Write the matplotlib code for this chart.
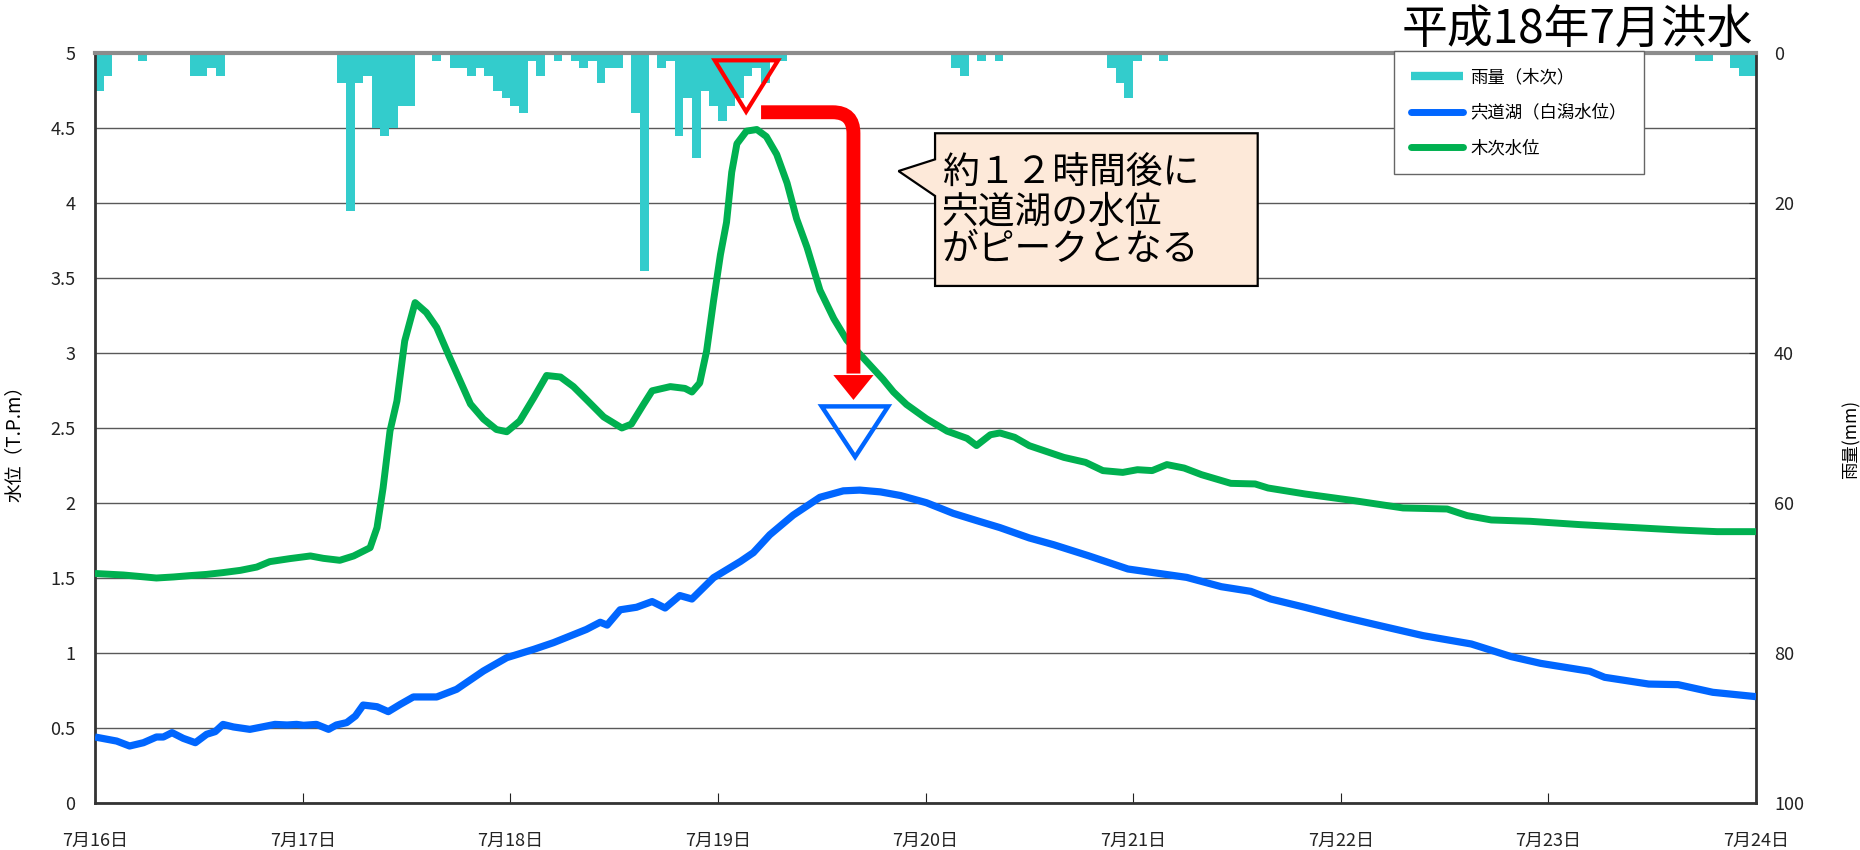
import matplotlib

matplotlib.use("Agg")
import matplotlib.pyplot as plt
import numpy as np
from matplotlib.lines import Line2D
from matplotlib.patches import PathPatch, Polygon
from matplotlib.path import Path
from matplotlib.ticker import FuncFormatter, MultipleLocator

plt.rcParams["font.family"] = ["Noto Sans CJK JP", "DejaVu Sans"]

DAY_LABELS = ["7月16日", "7月17日", "7月18日", "7月19日", "7月20日",
              "7月21日", "7月22日", "7月23日", "7月24日"]

# hourly rainfall at 木次 (mm), only the hours with rain
RAIN_HOURS = [0, 1, 5, 11, 12, 13, 14, 28, 29, 30, 31, 32, 33, 34, 35, 36, 39,
              41, 42, 43, 44, 45, 46, 47, 48, 49, 50, 51, 53, 55, 56, 57, 58,
              59, 60, 62, 63, 65, 66, 67, 68, 69, 70, 71, 72, 73, 74, 75, 76,
              77, 78, 79, 99, 100, 102, 104, 117, 118, 119, 120, 123, 185, 186,
              189, 190, 191]
RAIN_MM = [5, 3, 1, 3, 3, 2, 3, 4, 21, 4, 3, 10, 11, 10, 7, 7, 1,
           2, 2, 3, 2, 3, 5, 6, 7, 8, 1, 3, 1, 1, 2, 1, 4,
           2, 2, 8, 29, 2, 1, 11, 6, 14, 5, 7, 9, 7, 6, 3, 2,
           4, 1, 1, 2, 3, 1, 1, 2, 4, 6, 1, 1, 1, 1,
           2, 3, 3]

# 木次 water level (T.P.m)
KIJI_HOURS = [0, 3.3, 5.2, 7.1, 9.1, 11, 12.9, 14.8, 16.8, 18.7,
              20.2, 22.5, 24.9, 26.4, 28.3, 29.9, 31.8, 32.6, 33.3, 34.1,
              34.9, 35.8, 37, 38.3, 39.5, 41, 43.4, 44.9, 46.4, 47.6,
              49.1, 50.7, 52.2, 53.8, 55.3, 56.8, 58.8, 60.9, 62.0, 63.4,
              64.4, 66.5, 68.2, 69.0, 69.9, 70.7, 71.5, 72.3, 73.0, 73.6,
              74.2, 75.3, 76.5, 77.6, 78.8, 80.0, 81.1, 82.3, 83.8, 85.4,
              86.9, 89.2, 91.1, 92.3, 93.8, 96.1, 98.5, 100.8, 101.9, 103.5,
              104.6, 106.3, 108, 112, 114.5, 116.5, 118.8, 120.5, 122.2, 123.9,
              125.9, 127.9, 131.3, 134.1, 135.6, 139.9, 145.5, 151.2, 156.3, 158.6,
              161.4, 165.9, 171.6, 177.3, 183, 187.5, 192]
KIJI_LEVEL = [1.53, 1.52, 1.51, 1.50, 1.507, 1.516, 1.524, 1.536, 1.551, 1.573,
              1.609, 1.629, 1.647, 1.631, 1.618, 1.647, 1.702, 1.836, 2.10, 2.48,
              2.68, 3.08, 3.336, 3.27, 3.17, 2.97, 2.66, 2.56, 2.49, 2.475,
              2.547, 2.70, 2.85, 2.84, 2.776, 2.69, 2.574, 2.50, 2.526, 2.657,
              2.748, 2.776, 2.764, 2.74, 2.80, 3.014, 3.348, 3.657, 3.871, 4.205,
              4.395, 4.479, 4.49, 4.443, 4.324, 4.133, 3.895, 3.705, 3.419, 3.229,
              3.086, 2.943, 2.824, 2.74, 2.657, 2.562, 2.479, 2.431, 2.383, 2.455,
              2.467, 2.438, 2.382, 2.304, 2.271, 2.216, 2.204, 2.222, 2.216, 2.256,
              2.233, 2.189, 2.131, 2.127, 2.10, 2.06, 2.016, 1.967, 1.96, 1.916,
              1.887, 1.878, 1.856, 1.838, 1.82, 1.809, 1.809]

# 宍道湖 (白潟) water level (T.P.m)
SHINJI_HOURS = [0, 2.5, 4, 5.6, 7.1, 7.9, 8.9, 10.2, 11.6, 12.9,
                13.9, 14.8, 16, 17.9, 19.5, 20.8, 22.2, 23.3, 24.1, 25.6,
                27, 27.9, 29.1, 30.1, 31, 32.6, 33.9, 35.3, 36.8, 39.5,
                41.8, 44.9, 47.6, 50.7, 53, 54.9, 56.8, 58.4, 59.2, 60.7,
                62.6, 64.4, 65.9, 67.6, 69.0, 71.5, 74.6, 76.1, 78.0, 80.7,
                83.8, 86.5, 88.4, 90.8, 93.1, 96.1, 99.2, 101.9, 104.6, 108,
                110.8, 114.8, 119.4, 126.2, 130.2, 133.6, 135.9, 139.9, 144.4, 149,
                153.5, 159.1, 163.7, 167.1, 172.8, 174.5, 179.6, 183, 187, 192]
SHINJI_LEVEL = [0.44, 0.413, 0.38, 0.402, 0.44, 0.44, 0.469, 0.431, 0.402, 0.458,
                0.476, 0.524, 0.507, 0.491, 0.509, 0.524, 0.52, 0.524, 0.518, 0.524,
                0.491, 0.52, 0.536, 0.58, 0.653, 0.642, 0.609, 0.658, 0.707, 0.707,
                0.758, 0.88, 0.969, 1.024, 1.069, 1.113, 1.157, 1.205, 1.186, 1.288,
                1.305, 1.343, 1.30, 1.383, 1.36, 1.502, 1.61, 1.669, 1.788, 1.919,
                2.038, 2.081, 2.086, 2.074, 2.05, 2.002, 1.931, 1.883, 1.836, 1.767,
                1.722, 1.649, 1.56, 1.504, 1.442, 1.411, 1.36, 1.304, 1.238, 1.176,
                1.116, 1.06, 0.976, 0.931, 0.878, 0.838, 0.793, 0.789, 0.738, 0.709]

LEGEND_LABELS = ["雨量（木次）", "宍道湖（白潟水位）", "木次水位"]
CALLOUT_LINES = ["約１２時間後に", "宍道湖の水位", "がピークとなる"]

COL_RAIN = "#33CCCC"
COL_LAKE = "#0066FF"
COL_KIJI = "#00B050"
COL_RED = "#FF0000"
COL_GRID = "#595959"

W, H = 1860, 850
fig = plt.figure(figsize=(W / 100, H / 100), dpi=100, facecolor="white")
ax = fig.add_axes([95 / W, 1 - 803 / H, (1756 - 95) / W, (803 - 53) / H])
ax2 = ax.twinx()
ax.set_zorder(ax2.get_zorder() + 1)
ax.patch.set_visible(False)

# rainfall hanging from the top on the inverted right axis
ax2.bar(np.array(RAIN_HOURS) / 24, RAIN_MM, width=1 / 24, align="edge",
        color=COL_RAIN, linewidth=0, zorder=2)
ax2.set_ylim(100, 0)
ax2.yaxis.set_major_locator(MultipleLocator(20))
ax2.yaxis.set_minor_locator(MultipleLocator(10))
ax2.grid(which="both", axis="y", color=COL_GRID, linewidth=1.0, zorder=1)
ax2.set_axisbelow(True)
ax2.tick_params(axis="y", which="both", direction="in", length=5, pad=13,
                labelsize=13, colors="#222222")
for s in ax2.spines.values():
    s.set_visible(False)
ax2.set_ylabel("雨量(mm)", fontsize=12.5)
ax2.yaxis.set_label_coords((1842 - 95) / 1661, 0.485)

# water levels
ax.plot(np.array(SHINJI_HOURS) / 24, SHINJI_LEVEL, color=COL_LAKE, lw=5.2,
        solid_capstyle="butt", solid_joinstyle="round", zorder=3)
ax.plot(np.array(KIJI_HOURS) / 24, KIJI_LEVEL, color=COL_KIJI, lw=5.0,
        solid_capstyle="butt", solid_joinstyle="round", zorder=3)

ax.set_xlim(0, 8)
ax.set_ylim(0, 5)
ax.set_xticks(range(9))
ax.set_xticklabels(DAY_LABELS)
ax.yaxis.set_major_locator(MultipleLocator(0.5))
ax.yaxis.set_major_formatter(FuncFormatter(lambda v, p: f"{v:g}"))
ax.tick_params(axis="x", direction="in", length=7, pad=21, labelsize=13,
               colors="#222222")
ax.tick_params(axis="y", direction="in", length=0, pad=14, labelsize=13,
               colors="#222222", right=False)
ax.set_ylabel("水位（T.P.m）", fontsize=13.5)
ax.yaxis.set_label_coords((25 - 95) / 1661, 0.485)

for side in ("left", "bottom", "right"):
    ax.spines[side].set_color("#333333")
    ax.spines[side].set_linewidth(2.0)
ax.spines["top"].set_color("#8c8c8c")
ax.spines["top"].set_linewidth(3.0)

# peak markers
ax.add_patch(Polygon([(2.985, 4.951), (3.290, 4.951), (3.136, 4.609)],
                     closed=True, fill=False, edgecolor=COL_RED, lw=3.0,
                     joinstyle="miter", zorder=6, clip_on=False))
ax.add_patch(Polygon([(3.500, 2.644), (3.820, 2.644), (3.661, 2.307)],
                     closed=True, fill=False, edgecolor=COL_LAKE, lw=3.2,
                     joinstyle="miter", zorder=6))

# red bent arrow from the 木次 peak to the lake peak
ax_x0, ax_y, ax_xv = 3.208, 4.605, 3.653
rx, ry = 0.10, 0.14
head_top, head_tip, head_hw = 2.853, 2.687, 0.097
arrow_path = Path(
    [(ax_x0, ax_y), (ax_xv - rx, ax_y), (ax_xv, ax_y), (ax_xv, ax_y - ry),
     (ax_xv, head_top + 0.01)],
    [Path.MOVETO, Path.LINETO, Path.CURVE3, Path.CURVE3, Path.LINETO])
ax.add_patch(PathPatch(arrow_path, fill=False, edgecolor=COL_RED, lw=10,
                       capstyle="butt", zorder=7))
ax.add_patch(Polygon([(ax_xv - head_hw, head_top), (ax_xv + head_hw, head_top),
                      (ax_xv, head_tip)], closed=True, facecolor=COL_RED,
                     edgecolor="none", zorder=7))

# callout box with the left pointer
ax.add_patch(Polygon([(4.046, 4.465), (5.600, 4.465), (5.600, 3.447),
                      (4.046, 3.447), (4.046, 4.047), (3.870, 4.213),
                      (4.046, 4.291)], closed=True, facecolor="#FDE9D9",
                     edgecolor="black", lw=1.6, zorder=8))
for line, y in zip(CALLOUT_LINES, [4.20, 3.942, 3.687]):
    ax.text(4.078, y, line, fontsize=26.5, va="center", ha="left",
            color="black", zorder=9)

handles = [
    Line2D([], [], color=COL_RAIN, lw=6, solid_capstyle="butt"),
    Line2D([], [], color=COL_LAKE, lw=5, solid_capstyle="round"),
    Line2D([], [], color=COL_KIJI, lw=5, solid_capstyle="round"),
]
leg = fig.legend(handles, LEGEND_LABELS, loc="upper left",
                 bbox_to_anchor=(1394 / W, 1 - 51 / H),
                 bbox_transform=fig.transFigure, fontsize=12.5, frameon=True,
                 fancybox=False, edgecolor="#666666", framealpha=1,
                 borderpad=1.0, labelspacing=1.0, handlelength=3.0,
                 handletextpad=0.4, borderaxespad=0)
leg.get_frame().set_linewidth(1.0)
leg.set_zorder(20)

fig.text(1753 / W, 1 - 30 / H, "平成18年7月洪水", fontsize=33, ha="right",
         va="center", color="black")

fig.savefig("out.png", dpi=100, facecolor="white")
